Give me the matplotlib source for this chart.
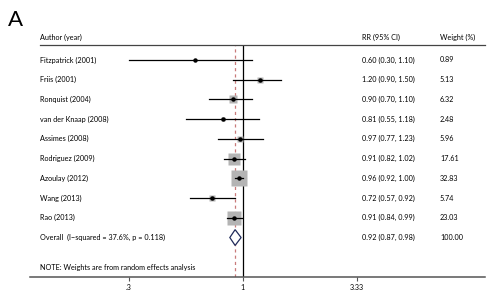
import numpy as np
import matplotlib
matplotlib.use('Agg')
import matplotlib.pyplot as plt

# Datos del forest plot
authors = ['Fitzpatrick (2001)', 'Friis (2001)', 'Ronquist (2004)', 'van der Knaap (2008)',
           'Assimes (2008)', 'Rodriguez (2009)', 'Azoulay (2012)', 'Wang (2013)', 'Rao (2013)']
rr = [0.60, 1.20, 0.90, 0.81, 0.97, 0.91, 0.96, 0.72, 0.91]
lower = [0.30, 0.90, 0.70, 0.55, 0.77, 0.82, 0.92, 0.57, 0.84]
upper = [1.10, 1.50, 1.10, 1.18, 1.23, 1.02, 1.00, 0.92, 0.99]
weights = [0.89, 5.13, 6.32, 2.48, 5.96, 17.61, 32.83, 5.74, 23.03]

overall_label = 'Overall  (I\u2212squared = 37.6%, p = 0.118)'
overall_rr, overall_lo, overall_hi = 0.92, 0.87, 0.98
overall_weight = '100.00'
note = 'NOTE: Weights are from random effects analysis'
xticks = [0.3, 1, 3.33]
xtick_labels = ['.3', '1', '3.33']

plt.rcParams['font.family'] = ['Lato', 'DejaVu Sans']
fs = 5.2

fig = plt.figure(figsize=(5.0, 3.01), dpi=100)
ax = fig.add_axes([0.06, 1 - 277 / 301, 0.91, (277 - 45) / 301])
ax.set_xscale('log')
x_left, x_right = 0.1055, 12.87
ax.set_xlim(x_left, x_right)
ax.set_ylim(11.0, -0.76)

for s in ['top', 'left', 'right']:
    ax.spines[s].set_visible(False)
ax.spines['bottom'].set_color('#555555')
ax.spines['bottom'].set_linewidth(1.1)
ax.set_yticks([])
ax.set_xticks(xticks)
ax.set_xticklabels(xtick_labels, fontsize=fs)
ax.xaxis.set_minor_locator(matplotlib.ticker.NullLocator())
ax.tick_params(axis='x', length=3, width=0.8, color='#555555', pad=2)

# Lineas verticales
ax.axvline(1, color='black', lw=0.9, zorder=1)
ax.axvline(overall_rr, color='#c97a7a', lw=0.9, ls=(0, (2.5, 2.5)), zorder=1)

# Encabezados
x_author = 0.1175
x_rr = 3.51
x_w = 8.0
y_head = -1.12
ax.text(x_author, y_head, 'Author (year)', fontsize=fs, va='center', clip_on=False)
ax.text(x_rr, y_head, 'RR (95% CI)', fontsize=fs, va='center', clip_on=False)
ax.text(x_w, y_head, 'Weight (%)', fontsize=fs, va='center', clip_on=False)
ax.plot([x_author, x_right], [-0.76, -0.76], color='#444444', lw=0.9, clip_on=False)

# Estudios
for i in range(len(authors)):
    side = 2.8 * np.sqrt(weights[i]) * 0.72
    ax.plot([lower[i], upper[i]], [i, i], color='black', lw=0.9, zorder=3)
    ax.plot(rr[i], i, marker='s', ms=side, color='#b4b4b4', mec='none', zorder=2)
    ax.plot(rr[i], i, marker='o', ms=2.2, color='black', zorder=4)
    ax.text(x_author, i, authors[i], fontsize=fs, va='center')
    ax.text(x_rr, i, f'{rr[i]:.2f} ({lower[i]:.2f}, {upper[i]:.2f})', fontsize=fs, va='center')
    ax.text(x_w, i, f'{weights[i]:.2f}', fontsize=fs, va='center')

# Overall
yo = len(authors)
ax.fill([overall_lo, overall_rr, overall_hi, overall_rr],
        [yo, yo - 0.4, yo, yo + 0.4], facecolor='white', edgecolor='#1f2a5a', lw=0.9, zorder=3)
ax.text(x_author, yo, overall_label, fontsize=fs, va='center')
ax.text(x_rr, yo, f'{overall_rr:.2f} ({overall_lo:.2f}, {overall_hi:.2f})', fontsize=fs, va='center')
ax.text(x_w, yo, overall_weight, fontsize=fs, va='center')

ax.text(x_author, 10.5, note, fontsize=fs, va='center')

fig.text(8 / 500, 1 - 20 / 301, 'A', fontsize=16, va='center', ha='left')

fig.savefig('out.png', dpi=100)
